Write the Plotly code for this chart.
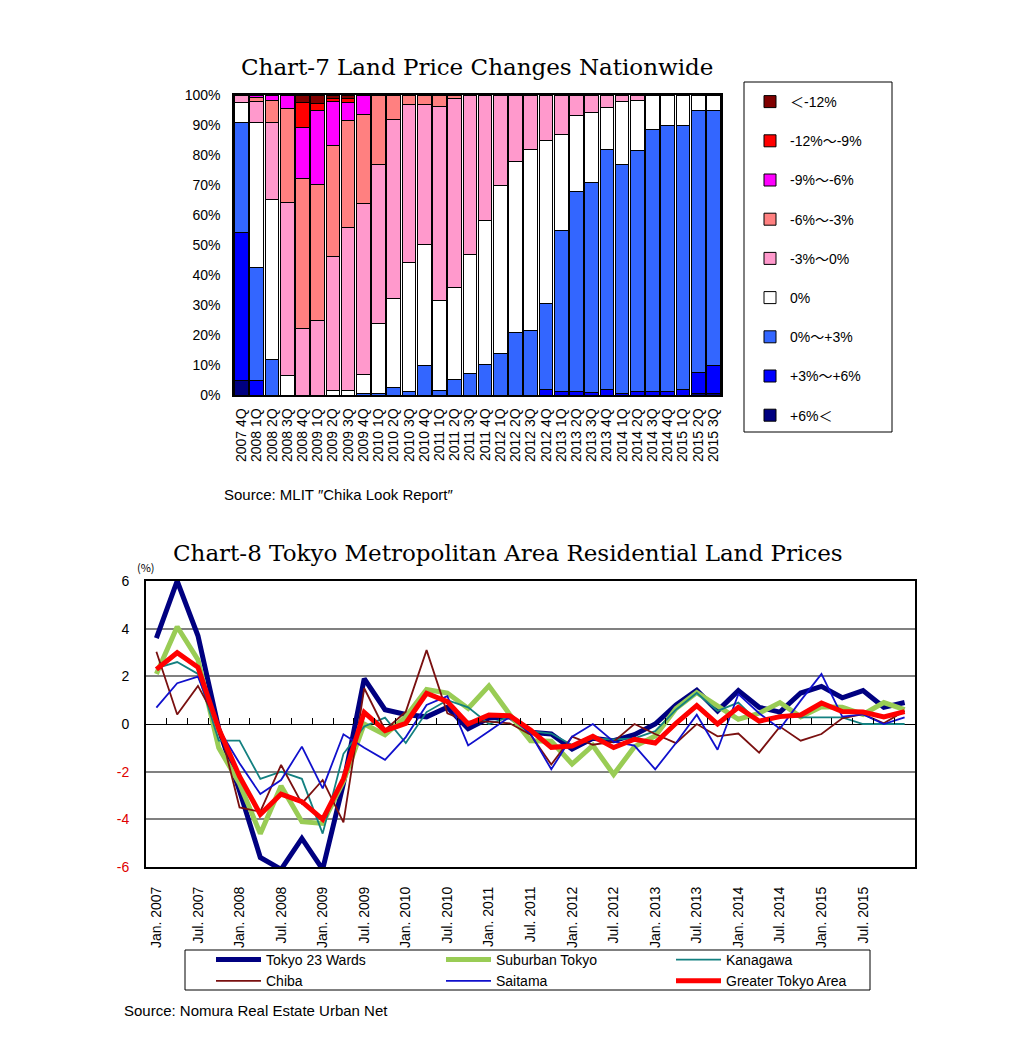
import plotly.graph_objects as go

# ---------------- Chart-7 data (share of sites, %) ----------------
quarters = ["2007 4Q",
            "2008 1Q", "2008 2Q", "2008 3Q", "2008 4Q",
            "2009 1Q", "2009 2Q", "2009 3Q", "2009 4Q",
            "2010 1Q", "2010 2Q", "2010 3Q", "2010 4Q",
            "2011 1Q", "2011 2Q", "2011 3Q", "2011 4Q",
            "2012 1Q", "2012 2Q", "2012 3Q", "2012 4Q",
            "2013 1Q", "2013 2Q", "2013 3Q", "2013 4Q",
            "2014 1Q", "2014 2Q", "2014 3Q", "2014 4Q",
            "2015 1Q", "2015 2Q", "2015 3Q"]

plus6_over = [5, 0, 0, 0, 0, 0, 0, 0, 0, 0, 0, 0, 0, 0, 0, 0,
              0, 0, 0, 0, 0, 0, 0, 0, 0, 0, 0, 0, 0, 0, 0.5, 0.5]
plus3_6 = [49.2, 5, 0, 0, 0, 0, 0, 0, 0, 0, 0, 0, 0, 0, 0, 0,
           0, 0, 0, 0, 1.7, 1.2, 1.2, 0.8, 1.8, 0.6, 1.2, 1.2, 1.3, 2, 7.1, 9.2]
plus0_3 = [36.6, 37.4, 11.9, 0, 0, 0, 0, 0, 0.5, 0.5, 2.5, 1.2, 10, 1.5, 5.2, 7.2,
           10.2, 13.7, 20.9, 21.4, 28.9, 53.8, 66.6, 70.1, 80.2, 76.1, 80.2, 87.4, 88.7, 88, 87.4, 85.3]
zero_pct = [6.6, 48.4, 53.4, 6.4, 0, 0, 1.4, 1.5, 6.2, 23.4, 29.7, 43, 40.2, 29.9, 30.6, 39.5,
            48.1, 56.3, 56.9, 60.3, 54.4, 31.9, 25.3, 23.2, 13.9, 21.1, 16.9, 11.4, 10, 10, 5, 5]
minus0_3 = [2.6, 7, 25.5, 57.8, 22.2, 25, 44.9, 54.3, 57, 53.1, 59.7, 52.8, 46.8, 64.7, 63.1, 53,
            41.5, 30, 22.2, 18.3, 15, 13.1, 6.9, 5.9, 4.1, 2.2, 1.7, 0, 0, 0, 0, 0]
minus3_6 = [0, 1.5, 7.3, 31.4, 50, 45.2, 37, 35.6, 29.9, 23, 8.1, 3, 3, 3.9, 1.1, 0.3,
            0.2, 0, 0, 0, 0, 0, 0, 0, 0, 0, 0, 0, 0, 0, 0, 0]
minus6_9 = [0, 0.7, 1.9, 4.4, 16.9, 24.5, 14.5, 6, 6.4, 0, 0, 0, 0, 0, 0, 0,
            0, 0, 0, 0, 0, 0, 0, 0, 0, 0, 0, 0, 0, 0, 0, 0]
minus9_12 = [0, 0, 0, 0, 8.3, 2.5, 1.1, 1.5, 0, 0, 0, 0, 0, 0, 0, 0,
             0, 0, 0, 0, 0, 0, 0, 0, 0, 0, 0, 0, 0, 0, 0, 0]
minus12_under = [0, 0, 0, 0, 2.6, 2.8, 1.1, 1.1, 0, 0, 0, 0, 0, 0, 0, 0,
                 0, 0, 0, 0, 0, 0, 0, 0, 0, 0, 0, 0, 0, 0, 0, 0]

band_names = ["+6%＜", "+3%～+6%", "0%～+3%", "0%", "-3%～0%",
              "-6%～-3%", "-9%～-6%", "-12%～-9%", "＜-12%"]
band_colors = ["#000080", "#0000FF", "#3366FF", "#FFFFFF", "#FF99CC",
               "#FF8080", "#FF00FF", "#FF0000", "#800000"]
band_values = [plus6_over, plus3_6, plus0_3, zero_pct, minus0_3,
               minus3_6, minus6_9, minus9_12, minus12_under]

# ---------------- Chart-8 data (y/y change, %) ----------------
months = ["Jan. 2007", "Jul. 2007", "Jan. 2008", "Jul. 2008", "Jan. 2009", "Jul. 2009",
          "Jan. 2010", "Jul. 2010", "Jan. 2011", "Jul. 2011", "Jan. 2012", "Jul. 2012",
          "Jan. 2013", "Jul. 2013", "Jan. 2014", "Jul. 2014", "Jan. 2015", "Jul. 2015"]

tokyo23 = [3.6, 6.0, 3.7, -0.2, -2.8, -5.6, -6.1, -4.8, -6.1, -2.5, 1.9, 0.6, 0.4, 0.3, 0.7, -0.2,
           0.25, 0.3, -0.35, -0.42, -1.05, -0.6, -0.7, -0.45, 0.0, 0.8, 1.42, 0.55, 1.4, 0.7, 0.5,
           1.3, 1.58, 1.1, 1.4, 0.7, 0.9]
suburban = [2.1, 4.08, 2.7, -1.0, -2.5, -4.6, -2.6, -4.1, -4.17, -2.4, 0.0, -0.45, 0.3, 1.45, 1.3,
            0.65, 1.6, 0.4, -0.7, -0.72, -1.68, -0.9, -2.12, -0.95, -0.5, 0.65, 1.32, 0.75, 0.2,
            0.45, 0.9, 0.3, 0.72, 0.7, 0.4, 0.9, 0.6]
kanagawa = [2.34, 2.6, 2.1, -0.7, -0.7, -2.3, -2.0, -2.3, -4.6, -1.25, -0.1, 0.27, -0.8, 0.5, 1.0,
            0.7, 0.0, 0.3, -0.3, -0.4, -0.88, -0.6, -0.65, -0.6, -0.3, 0.6, 1.3, 0.55, 0.9, 0.05,
            0.38, 0.28, 0.28, 0.28, 0.0, 0.0, 0.0]
chiba = [3.03, 0.4, 1.6, 0.0, -3.5, -3.68, -1.72, -3.33, -2.35, -4.13, 1.5, -0.25, 0.52, 3.1, 0.45,
         0.1, 0.1, 0.03, -0.45, -1.7, -0.53, -0.87, -0.74, 0.0, -0.42, -0.8, 0.0, -0.52, -0.4,
         -1.2, -0.11, -0.7, -0.42, 0.24, 0.41, 0.03, 0.55]
saitama = [0.69, 1.71, 1.99, -0.2, -1.65, -2.94, -2.35, -0.95, -2.7, -0.43, -1.0, -1.5, -0.55, 0.8,
           1.17, -0.9, -0.3, 0.3, -0.4, -1.9, -0.53, 0.0, -0.74, -0.91, -1.9, -0.8, 0.39, -1.08,
           1.25, 0.45, -0.2, 0.98, 2.1, 0.31, 0.4, 0.0, 0.28]
greater = [2.29, 2.99, 2.38, -0.2, -2.2, -3.79, -2.94, -3.26, -4.0, -2.3, 0.49, -0.28, 0.03, 1.29,
           0.94, 0.0, 0.38, 0.35, -0.25, -0.98, -0.92, -0.52, -0.99, -0.64, -0.8, 0.03, 0.77, 0.0,
           0.7, 0.12, 0.31, 0.38, 0.88, 0.52, 0.5, 0.3, 0.52]

line_names = ["Tokyo 23 Wards", "Suburban Tokyo", "Kanagawa", "Chiba", "Saitama", "Greater Tokyo Area"]
line_values = [tokyo23, suburban, kanagawa, chiba, saitama, greater]
line_colors = ["#000080", "#99CC55", "#138080", "#7A1010", "#1010CC", "#FF0000"]
line_widths = [5, 5, 1.8, 1.8, 1.8, 5]

y8_ticks = [6, 4, 2, 0, -2, -4, -6]
y8_text = [str(v) if v >= 0 else '<span style="color:#E00000">%d</span>' % v for v in y8_ticks]

# ---------------- figure ----------------
OFF = 8                      # page body margin around the plot div
W, H = 1006, 1040
ML, MR, MT, MB = 60, 60, 40, 30
PW, PH = W - ML - MR, H - MT - MB


def px_x(x):                 # page pixel -> paper fraction
    return (x - OFF - ML) / PW


def px_y(y):
    return (H - MB - (y - OFF)) / PH


fig = go.Figure()

for i, (name, vals, col) in enumerate(zip(band_names, band_values, band_colors)):
    fig.add_trace(go.Bar(
        x=quarters, y=[v / 100 for v in vals], name=name,
        marker=dict(color=col, line=dict(color="black", width=1)),
        xaxis="x", yaxis="y", legend="legend", legendgroup=name,
        legendrank=100 - 10 * i, hoverinfo="x+y+name"))

n = len(tokyo23)
xs = list(range(n))
for name, vals, col, lw in zip(line_names, line_values, line_colors, line_widths):
    fig.add_trace(go.Scatter(
        x=xs, y=vals, name=name, mode="lines",
        line=dict(color=col, width=lw),
        xaxis="x2", yaxis="y2", legend="legend2"))

# helper trace for the tick marks along the zero line
fig.add_trace(go.Scatter(x=[None], y=[None], xaxis="x3", yaxis="y2",
                         showlegend=False, hoverinfo="skip"))

font_sans = "Liberation Sans, Arial, Noto Sans CJK JP"
font_serif = "DejaVu Serif, Liberation Serif, serif"

y8_bottom, y8_top = px_y(867), px_y(581)

fig.update_layout(
    width=W, height=H,
    margin=dict(l=ML, r=MR, t=MT, b=MB),
    paper_bgcolor="white", plot_bgcolor="white",
    barmode="stack", bargap=0.1,
    font=dict(family=font_sans, size=13, color="black"),
    xaxis=dict(domain=[px_x(234), px_x(721)], anchor="y", type="category",
               tickmode="array", tickvals=quarters, ticktext=quarters,
               tickangle=-90, tickfont=dict(size=14), showline=True, mirror=True,
               linecolor="black", linewidth=1.5, ticks="outside", ticklen=6,
               tickcolor="rgba(0,0,0,0)", showgrid=False),
    yaxis=dict(domain=[px_y(395), px_y(95)], anchor="x", range=[0, 1],
               tickvals=[i / 10 for i in range(11)], tickformat=".0%",
               tickfont=dict(size=14), showline=True, mirror=True,
               linecolor="black", linewidth=1.5, showgrid=False, zeroline=False,
               ticks="outside", ticklen=9, tickcolor="rgba(0,0,0,0)"),
    xaxis2=dict(domain=[px_x(146), px_x(915)], anchor="y2", range=[-0.5, n - 0.5],
                tickvals=list(range(0, 2 * len(months), 2)), ticktext=months,
                tickangle=-90, tickfont=dict(size=14), showline=True, mirror=True,
                linecolor="black", linewidth=2, showgrid=False, zeroline=False,
                ticks="outside", ticklen=12, tickcolor="rgba(0,0,0,0)"),
    yaxis2=dict(domain=[y8_bottom, y8_top], anchor="x2", range=[-6, 6],
                tickvals=y8_ticks, ticktext=y8_text, tickfont=dict(size=14),
                showline=True, mirror=True, linecolor="black", linewidth=2,
                showgrid=True, gridcolor="#808080", gridwidth=2,
                zeroline=True, zerolinecolor="black", zerolinewidth=1.2,
                ticks="outside", ticklen=12, tickcolor="rgba(0,0,0,0)"),
    xaxis3=dict(overlaying="x2", anchor="free", position=(y8_bottom + y8_top) / 2,
                side="bottom", range=[-0.5, n - 0.5],
                tickvals=[i + 0.5 for i in range(n - 1)], ticks="inside", ticklen=6,
                tickcolor="black", tickwidth=1, showticklabels=False,
                showline=False, showgrid=False, zeroline=False),
    legend=dict(x=px_x(750), y=px_y(86), xanchor="left", yanchor="top",
                traceorder="grouped", tracegroupgap=18,
                borderwidth=0, bgcolor="rgba(0,0,0,0)",
                font=dict(size=14, family=font_sans)),
    legend2=dict(x=px_x(211), y=px_y(944), xanchor="left", yanchor="top",
                 orientation="h", entrywidth=170, itemwidth=45,
                 borderwidth=0, bgcolor="rgba(0,0,0,0)",
                 font=dict(size=14, family=font_sans)),
    showlegend=True,
)

# legend frames
fig.update_layout(shapes=[
    dict(type="rect", xref="paper", yref="paper", x0=px_x(744), x1=px_x(892),
         y0=px_y(432), y1=px_y(82), line=dict(color="black", width=1), layer="below"),
    dict(type="rect", xref="paper", yref="paper", x0=px_x(185), x1=px_x(870),
         y0=px_y(990), y1=px_y(950), line=dict(color="black", width=1), layer="below"),
])

annotations = [
    dict(text="Chart-7 Land Price Changes Nationwide", x=px_x(477), y=px_y(67),
         font=dict(family=font_serif, size=23, color="black")),
    dict(text="Source: MLIT ″Chika Look Report″", x=px_x(222), y=px_y(494),
         xanchor="left", font=dict(family=font_sans, size=15, color="black")),
    dict(text="Chart-8 Tokyo Metropolitan Area Residential Land Prices", x=px_x(508),
         y=px_y(553), font=dict(family=font_serif, size=23, color="black")),
    dict(text="(%)", x=px_x(146), y=px_y(567),
         font=dict(family="Noto Sans CJK JP", size=11, color="black")),
    dict(text="Source: Nomura Real Estate Urban Net", x=px_x(122), y=px_y(1010),
         xanchor="left", font=dict(family=font_sans, size=15, color="black")),
]
for a in annotations:
    a.setdefault("xanchor", "center")
    a.update(xref="paper", yref="paper", yanchor="middle", showarrow=False)
fig.update_layout(annotations=annotations)

fig.write_html("out.html")
